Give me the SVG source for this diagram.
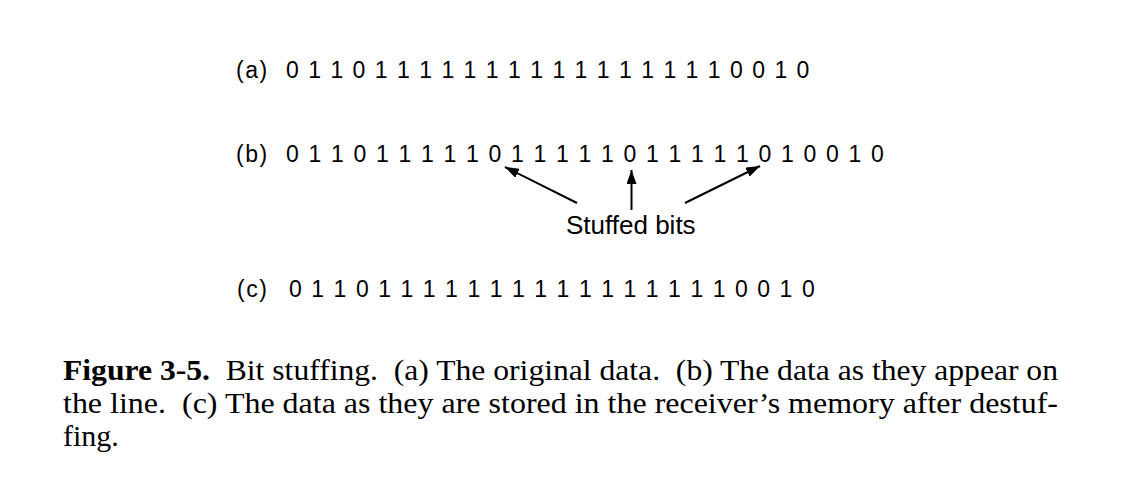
<svg xmlns="http://www.w3.org/2000/svg" width="1129" height="488" viewBox="0 0 1129 488">
<style>
.lbl{font-family:"Liberation Sans",Arial,sans-serif;font-size:23px;fill:#000}
.tag{letter-spacing:1.5px}
.st{font-family:"Liberation Sans",Arial,sans-serif;font-size:26px;fill:#000}
.cap{font-family:"Liberation Serif","Times New Roman",serif;font-size:30px;fill:#000;white-space:pre}
.arr{stroke:#000;stroke-width:2;fill:none;marker-end:url(#ah)}
</style>
<defs>
<marker id="ah" viewBox="0 0 14 10" refX="14" refY="5" markerWidth="14" markerHeight="10" markerUnits="userSpaceOnUse" orient="auto">
<path d="M0,0 L14,5 L0,10 z" fill="#000"/>
</marker>
</defs>
<rect width="1129" height="488" fill="#fff"/>
<g id="row-a">
<text class="lbl tag" x="236" y="78">(a)</text>
<text class="lbl" y="78" x="286 308.2 330.4 352.6 374.8 397 419.2 441.4 463.6 485.8 508 530.2 552.4 574.6 596.8 619 641.2 663.4 685.6 707.8 730 752.2 774.4 796.6">011011111111111111110010</text>
</g>
<g id="row-b">
<text class="lbl tag" x="236" y="162">(b)</text>
<text class="lbl" y="162" x="286 308.5 331 353.5 376 398.5 421 443.5 466 488.5 511 533.5 556 578.5 601 623.5 646 668.5 691 713.5 736 758.5 781 803.5 826 848.5 871">011011111011111011111010010</text>
</g>
<g id="label-stuffed">
<text class="st" x="566" y="234">Stuffed bits</text>
</g>
<g id="connectors">
<line class="arr" x1="577" y1="203" x2="505" y2="167"/>
<line class="arr" x1="631.5" y1="210" x2="631.5" y2="170"/>
<line class="arr" x1="685" y1="203" x2="760" y2="166"/>
</g>
<g id="row-c">
<text class="lbl tag" x="237" y="297">(c)</text>
<text class="lbl" y="297" x="289 311.3 333.6 355.9 378.2 400.5 422.8 445.1 467.4 489.7 512 534.3 556.6 578.9 601.2 623.5 645.8 668.1 690.4 712.7 735 757.3 779.6 801.9">011011111111111111110010</text>
</g>
<g id="caption">
<text class="cap" x="63" y="380" textLength="995" lengthAdjust="spacingAndGlyphs"><tspan font-weight="bold">Figure 3-5.</tspan>  Bit stuffing.  (a) The original data.  (b) The data as they appear on</text>
<text class="cap" x="63" y="413" textLength="995" lengthAdjust="spacingAndGlyphs">the line.  (c) The data as they are stored in the receiver’s memory after destuf-</text>
<text class="cap" x="63" y="446">fing.</text>
</g>
</svg>
